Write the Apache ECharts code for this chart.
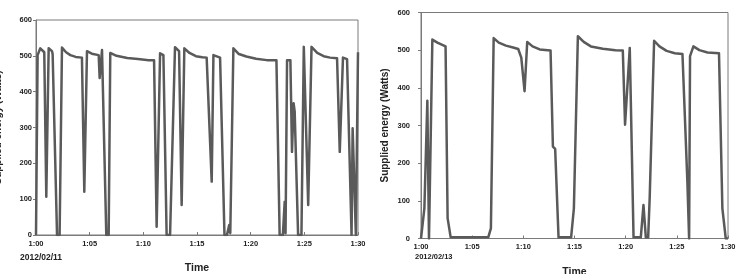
<!DOCTYPE html>
<html>
<head>
<meta charset="utf-8">
<script src="https://cdn.jsdelivr.net/npm/echarts@6/dist/echarts.min.js"></script>
<style>
  html,body{margin:0;padding:0;background:#fff;}
  #chart{width:742px;height:274px;}
</style>
</head>
<body>
<div id="chart"></div>
<script>
// minutes after 1:00 and supplied watts
const leftMinutes = [0, 0.15, 0.4, 0.77, 0.96, 1.18, 1.49, 1.55, 1.96, 2.2, 2.42, 2.8, 3.2, 3.7, 4.28, 4.5, 4.75, 5.2, 5.84, 5.93, 6.15, 6.55, 6.77, 6.92, 7.5, 8.5, 9.5, 10.5, 11.0, 11.24, 11.56, 11.87, 12.17, 12.49, 12.95, 13.33, 13.57, 13.82, 14.3, 14.9, 15.5, 15.9, 16.37, 16.53, 17.15, 17.56, 17.79, 18.0, 18.1, 18.39, 18.9, 19.6, 20.5, 21.5, 22.4, 22.7, 23.0, 23.17, 23.25, 23.39, 23.7, 23.85, 24.0, 24.1, 24.42, 24.73, 24.95, 25.36, 25.67, 26.2, 26.8, 27.4, 28.05, 28.3, 28.6, 28.98, 29.4, 29.5, 29.8, 29.95, 30.0];
const leftWatts   = [0, 502, 521, 510, 107, 521, 513, 505, 0, 0, 523, 510, 502, 497, 495, 121, 513, 506, 502, 438, 516, 0, 0, 508, 500, 494, 491, 488, 488, 23, 507, 502, 0, 0, 524, 513, 84, 521, 508, 499, 496, 495, 149, 502, 495, 0, 0, 28, 5, 521, 505, 498, 492, 488, 488, 0, 0, 93, 5, 488, 488, 232, 368, 345, 0, 0, 525, 84, 525, 508, 499, 495, 493, 232, 495, 491, 0, 298, 0, 0, 510];

const rightMinutes = [0, 0.33, 0.62, 0.78, 0.85, 1.11, 1.6, 2.4, 2.6, 2.9, 6.57, 6.83, 7.1, 7.6, 8.3, 9.0, 9.5, 9.8, 10.12, 10.38, 10.9, 11.6, 12.66, 12.89, 13.11, 13.44, 14.67, 14.94, 15.33, 15.9, 16.6, 17.77, 19.0, 19.72, 19.94, 20.4, 20.77, 21.48, 21.74, 21.97, 22.2, 22.35, 22.78, 23.3, 24.0, 24.8, 25.55, 26.03, 26.2, 26.29, 26.62, 27.2, 28.0, 29.12, 29.45, 29.78, 30.0];
const rightWatts   = [0, 80, 366, 0, 0, 528, 520, 510, 54, 3, 3, 27, 532, 520, 512, 507, 503, 480, 391, 522, 510, 502, 499, 244, 238, 3, 3, 80, 537, 522, 510, 504, 500, 499, 302, 506, 3, 3, 89, 3, 3, 110, 525, 510, 498, 492, 490, 151, 0, 484, 510, 500, 494, 492, 80, 0, 0];

const xTickLabels = ['1:00', '1:05', '1:10', '1:15', '1:20', '1:25', '1:30'];
const yTicks = [0, 100, 200, 300, 400, 500, 600];
const dateLabels = ['2012/02/11', '2012/02/13'];

const FONT = '"Liberation Sans", Arial, sans-serif';
const TXT = '#222';
const AX = '#7a7a7a';
const LINE = '#5a5a5a';

const pairs = (xs, ys) => xs.map((x, i) => [x, ys[i]]);

function xAxisFor(gridIndex, labelMargin){
  return {
    gridIndex, type: 'value', min: 0, max: 30, interval: 5,
    axisLine: {lineStyle: {color: AX, width: 1}},
    axisTick: {inside: true, length: 3, lineStyle: {color: AX}},
    splitLine: {show: false},
    axisLabel: {
      margin: labelMargin, fontSize: 7.5, fontWeight: 'bold', color: TXT, fontFamily: FONT,
      formatter: v => xTickLabels[Math.round(v / 5)]
    },
    name: 'Time', nameLocation: 'middle', nameGap: 28,
    nameTextStyle: {fontSize: 10.5, fontWeight: 'bold', color: TXT, fontFamily: FONT}
  };
}

function yAxisFor(gridIndex, labelMargin, nameGap){
  return {
    gridIndex, type: 'value', min: yTicks[0], max: yTicks[yTicks.length - 1], interval: 100,
    axisLine: {show: true, lineStyle: {color: AX, width: 1}},
    axisTick: {show: true, length: 3, lineStyle: {color: AX}},
    splitLine: {show: false},
    axisLabel: {margin: labelMargin, fontSize: 7.5, fontWeight: 'bold', color: TXT, fontFamily: FONT},
    name: 'Supplied energy (Watts)', nameLocation: 'middle', nameGap,
    nameTextStyle: {fontSize: 10, fontWeight: 'bold', color: TXT, fontFamily: FONT}
  };
}

function lineSeries(idx, data){
  return {
    type: 'line', xAxisIndex: idx, yAxisIndex: idx, data,
    showSymbol: false, symbol: 'none', smooth: false,
    lineStyle: {width: 2.5, color: LINE, join: 'round'}
  };
}

const chart = echarts.init(document.getElementById('chart'));
chart.setOption({
  animation: false,
  backgroundColor: '#fff',
  grid: [
    {left: 36, top: 20, width: 322, height: 215, show: true, borderColor: AX, borderWidth: 1, containLabel: false, outerBoundsMode: 'none'},
    {left: 421, top: 12.5, width: 307, height: 226, show: true, borderColor: AX, borderWidth: 1, containLabel: false, outerBoundsMode: 'none'}
  ],
  xAxis: [xAxisFor(0, 5), xAxisFor(1, 4)],
  yAxis: [yAxisFor(0, 4, 33), yAxisFor(1, 11, 31)],
  series: [
    lineSeries(0, pairs(leftMinutes, leftWatts)),
    lineSeries(1, pairs(rightMinutes, rightWatts))
  ],
  graphic: [
    {type: 'text', left: 20, top: 253, style: {text: dateLabels[0], font: 'bold 8.5px ' + FONT, fill: TXT}},
    {type: 'text', left: 415, top: 253, style: {text: dateLabels[1], font: 'bold 7.5px ' + FONT, fill: TXT}}
  ]
});
</script>
</body>
</html>
